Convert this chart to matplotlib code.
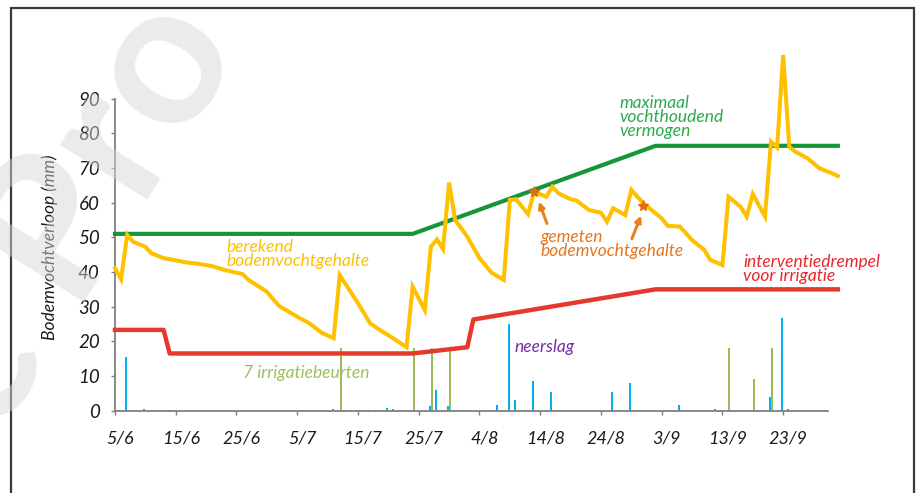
import matplotlib
matplotlib.use("Agg")
import matplotlib.pyplot as plt
import matplotlib.patches as patches
import matplotlib.transforms as mtransforms

plt.rcParams["font.family"] = ["Lato", "DejaVu Sans"]
plt.rcParams["font.style"] = "italic"

# day 0 = 5 juni
tick_days = [0, 10, 20, 30, 40, 50, 60, 70, 80, 90, 100, 110]
tick_labels = ["5/6", "15/6", "25/6", "5/7", "15/7", "25/7", "4/8", "14/8",
               "24/8", "3/9", "13/9", "23/9"]

# berekend bodemvochtgehalte (mm)
soil_days = [0, 1, 2, 3, 5, 6, 8, 9, 12, 14, 16, 18, 21, 22, 25, 27, 30, 32,
             34, 36, 37, 40, 42, 44, 45, 48, 49, 51, 52, 53, 54, 55, 56, 58,
             60, 62, 64, 65, 66, 68, 69, 71, 72, 73, 75, 76, 78, 80, 81, 82,
             84, 85, 87, 90, 91, 93, 95, 97, 98, 100, 101, 103, 104, 105, 107,
             108, 109, 110, 111, 112, 114, 116, 118, 119]
soil_mm = [41.1, 37.9, 50.7, 48.7, 47.3, 45.4, 44.0, 43.7, 42.7, 42.3, 41.7,
           40.6, 39.4, 37.7, 34.3, 30.2, 27.1, 25.2, 22.5, 20.9, 39.1, 31.0,
           25.2, 22.8, 21.8, 18.3, 35.8, 29.0, 47.3, 49.4, 46.6, 65.8, 55.0,
           50.2, 44.0, 39.8, 37.7, 60.8, 61.0, 56.7, 63.2, 61.7, 64.6, 62.7,
           61.0, 60.6, 57.9, 57.1, 54.5, 58.4, 56.4, 63.7, 59.8, 55.5, 53.3,
           53.1, 49.2, 46.4, 43.5, 42.0, 61.7, 58.8, 56.0, 62.5, 56.0, 77.6,
           76.0, 102.6, 76.1, 74.7, 72.8, 69.9, 68.5, 67.7]

# maximaal vochthoudend vermogen
max_days = [0, 49, 89, 119]
max_mm = [51.0, 51.0, 76.4, 76.4]

# interventiedrempel voor irrigatie
thr_days = [0, 8, 9, 49, 58, 59, 89, 119]
thr_mm = [23.3, 23.3, 16.5, 16.5, 18.3, 26.3, 35.0, 35.0]

# gemeten bodemvochtgehalte
meas_days = [69, 87]
meas_mm = [63.2, 59.0]

# neerslag (mm)
rain_days = [1, 2, 3, 4, 5, 9, 14, 16, 29, 30, 31, 32, 36, 38, 39, 40, 41, 42,
             43, 45, 46, 47, 48, 52, 53, 55, 56, 63, 65, 66, 69, 72, 82, 85,
             93, 98, 99, 100, 102, 104, 105, 106, 107, 108, 110, 111]
rain_mm = [0.2, 15.6, 0.2, 0.2, 0.5, 0.2, 0.2, 0.2, 0.2, 0.2, 0.2, 0.2, 0.5,
           0.2, 0.2, 0.2, 0.2, 0.2, 0.2, 0.9, 0.5, 0.2, 0.2, 1.4, 6.0, 1.4,
           0.2, 1.6, 25.0, 3.1, 8.6, 5.4, 5.4, 8.0, 1.6, 0.2, 0.4, 0.2, 0.2,
           0.2, 0.2, 0.2, 0.2, 4.0, 26.7, 0.4]

# irrigatiebeurten (mm)
irr_days = [37, 49, 52, 55, 101, 105, 108]
irr_mm = [18.0, 18.0, 18.0, 18.0, 18.0, 9.1, 18.0]

fig = plt.figure(figsize=(9.2, 4.93), dpi=100)
ax = fig.add_axes([0.125, 0.167, 0.789, 0.7735])

ax.bar([d - 0.16 for d in rain_days], rain_mm, width=0.33, color="#00B0F0",
       linewidth=0, antialiased=False, zorder=2)
ax.bar([d + 0.16 for d in irr_days], irr_mm, width=0.33, color="#9BBB59",
       linewidth=0, antialiased=False, zorder=2)

ax.plot(max_days, max_mm, color="#16953A", lw=3.0, zorder=3, clip_on=False)
ax.plot(thr_days, thr_mm, color="#E53A2B", lw=3.2, zorder=3, clip_on=False)
ax.plot(soil_days, soil_mm, color="#FFC000", lw=2.9, zorder=4, clip_on=False,
        solid_joinstyle="miter")
ax.plot(meas_days, meas_mm, ls="none", marker="*", ms=8, color="#E46C0A", zorder=5)

# pijlen naar de metingen
ax.annotate("", xy=(69.8, 60.3), xytext=(71.1, 54.0),
            arrowprops=dict(arrowstyle="-|>", color="#E8821E", lw=2.2,
                            mutation_scale=9, shrinkA=0, shrinkB=0))
ax.annotate("", xy=(86.6, 56.3), xytext=(85.1, 49.6),
            arrowprops=dict(arrowstyle="-|>", color="#E8821E", lw=2.2,
                            mutation_scale=9, shrinkA=0, shrinkB=0))

ax.set_xlim(0, 119.5)
ax.set_ylim(0, 110)
ax.spines["top"].set_visible(False)
ax.spines["right"].set_visible(False)
for s in ("left", "bottom"):
    ax.spines[s].set_color("#808080")
    ax.spines[s].set_linewidth(1.3)
ax.spines["left"].set_bounds(0, 90)
ax.spines["bottom"].set_bounds(0, 117.3)

ax.set_yticks(range(0, 100, 10))
ax.set_xticks(tick_days)
ax.set_xticklabels(tick_labels)
ax.tick_params(axis="both", length=3, width=1, color="#808080",
               labelsize=13.5, labelcolor="#1a1a1a")
ax.tick_params(axis="y", pad=8)
ax.tick_params(axis="x", pad=11, labelsize=13)
shift = mtransforms.ScaledTranslation(5 / 100, 0, fig.dpi_scale_trans)
for lab in ax.get_xticklabels():
    lab.set_transform(lab.get_transform() + shift)

ax.set_ylabel("Bodemvochtverloop (mm)", fontsize=12.5, color="#1a1a1a")
ax.yaxis.set_label_coords(-0.0785, 47 / 110)

ax.text(18.4, 49.5, "berekend\nbodemvochtgehalte", color="#FFC000",
        fontsize=12.5, va="top", ha="left", linespacing=0.85)
ax.text(83.1, 91.0, "maximaal\nvochthoudend\nvermogen", color="#2BAA4E",
        fontsize=12.5, va="top", ha="left", linespacing=0.85)
ax.text(70.1, 52.3, "gemeten\nbodemvochtgehalte", color="#E8761C",
        fontsize=12.5, va="top", ha="left", linespacing=0.85)
ax.text(103.4, 45.2, "interventiedrempel\nvoor irrigatie", color="#E8262C",
        fontsize=12.5, va="top", ha="left", linespacing=0.85)
ax.text(65.8, 18.5, "neerslag", color="#7030A0", fontsize=12.5,
        va="center", ha="left")
ax.text(21.1, 11.0, "7 irrigatiebeurten", color="#9BC25A", fontsize=12.5,
        va="center", ha="left")

# kader rond de figuur
fig.patches.append(patches.Rectangle((11 / 920, -0.05), 903 / 920, 1.05 - 8 / 493,
                                     transform=fig.transFigure, fill=False,
                                     edgecolor="#3a3a3a", lw=1.6))

# watermerk
fig.text(71 / 920, 1 - 213 / 493, "c Pro", rotation=58, rotation_mode="anchor",
         ha="center", va="center", fontsize=145, color="#d8d8d8",
         alpha=0.5, style="normal", fontweight="bold", zorder=10)

fig.savefig("out.png", dpi=100)
